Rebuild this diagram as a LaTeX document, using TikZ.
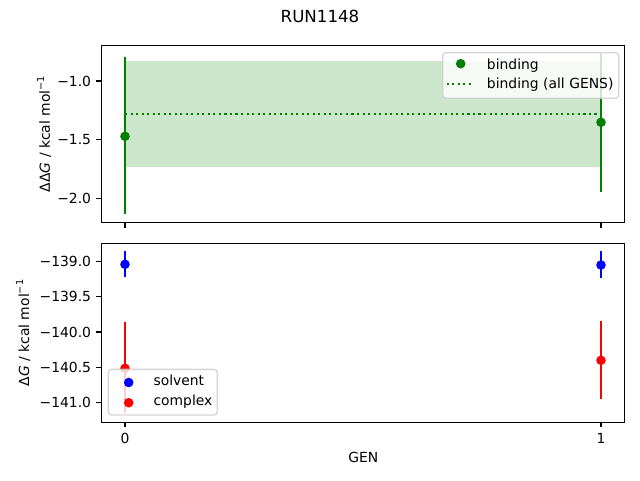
\documentclass[tikz,border=0pt]{standalone}
\usepackage{fontspec}
\setmainfont{DejaVu Sans}
\definecolor{mplgreen}{RGB}{0,128,0}
\definecolor{mplblue}{RGB}{0,0,255}
\definecolor{mplred}{RGB}{255,0,0}
\definecolor{leggray}{RGB}{204,204,204}
\newcommand{\supm}[1]{\raisebox{0.42em}{\fontsize{7.3}{8}\selectfont #1}}
\tikzset{
  lbl/.style={font=\fontsize{10.42}{12}\selectfont, inner sep=0pt, text height=7.6pt, text depth=0pt},
  ttl/.style={font=\fontsize{12.5}{14}\selectfont, inner sep=0pt, text height=9.1pt, text depth=0pt},
  ylbl/.style={font=\fontsize{10.42}{12}\selectfont, inner sep=0pt, rotate=90, anchor=base},
  legtxt/.style={font=\fontsize{10.42}{12}\selectfont, inner sep=0pt, anchor=base west},
  ebar/.style={line width=1.5625pt},
  spine/.style={line width=0.833pt},
  tickmark/.style={line width=0.833pt},
  legbox/.style={draw=leggray, fill=white, fill opacity=0.8, draw opacity=0.8, line width=1.04pt, rounded corners=2.5pt},
  dotline/.style={line width=1.5625pt, dash pattern=on 1.5625pt off 2.58pt, mplgreen},
  mk/.style={radius=3.6pt},
}
\begin{document}
\begin{tikzpicture}[x=0.75pt, y=-0.75pt]
\useasboundingbox (0,0) rectangle (640,480);
% ---------- title ----------
\node[ttl] (title) at (320,16) {RUN1148};
% ---------- top axes ----------
\fill[mplgreen, opacity=0.2] (125,61) rectangle (601,166.7);
\draw[dotline] (125,113.7) -- (601,113.7);
\draw[ebar, mplgreen] (125,57.3) -- (125,214.3);
\draw[ebar, mplgreen] (601,52.8) -- (601,191.7);
\fill[mplgreen] (125,136.3) circle[mk];
\fill[mplgreen] (601,122.3) circle[mk];
\draw[spine] (101.2,45.3) rectangle (624.9,222.7);
% y ticks
\foreach \yy/\tt/\nm in {81/{−1.0}/ta,139.7/{−1.5}/tb,198.3/{−2.0}/tc}{
  \draw[tickmark] (101.2,\yy) -- (96.3,\yy);
  \node[lbl, anchor=east] (\nm) at (91.3,\yy) {\tt};
}
\draw[tickmark] (125,222.7) -- (125,227.6);
\draw[tickmark] (601,222.7) -- (601,227.6);
\node[ylbl] (ylabtop) at (50,134) {ΔΔ\textit{G} / kcal mol\supm{−1}};
% legend top
\draw[legbox] (442.7,52.7) rectangle (618.8,98.2);
\fill[mplgreen] (460.7,63.7) circle[mk];
\node[legtxt] (lb1) at (486.7,69.3) {binding};
\draw[dotline] (446.5,84) -- (473.5,84);
\node[legtxt] (lb2) at (486.7,88.6) {binding (all GENS)};
% ---------- bottom axes ----------
\draw[ebar, mplblue] (125,251) -- (125,276.7);
\draw[ebar, mplblue] (601,251) -- (601,277.7);
\draw[ebar, mplred] (125,321.7) -- (125,413.3);
\draw[ebar, mplred] (601,320.7) -- (601,398.7);
\fill[mplblue] (125,264.3) circle[mk];
\fill[mplblue] (601,265) circle[mk];
\fill[mplred] (125,368.3) circle[mk];
\fill[mplred] (601,360.3) circle[mk];
\draw[spine] (101.2,243.7) rectangle (624.9,422.3);
\foreach \yy/\tt/\nm in {261.7/{−139.0}/ba,296.85/{−139.5}/bb,332.0/{−140.0}/bc,367.15/{−140.5}/bd,402.3/{−141.0}/be}{
  \draw[tickmark] (101.2,\yy) -- (96.3,\yy);
  \node[lbl, anchor=east] (\nm) at (91.3,\yy) {\tt};
}
\draw[tickmark] (125,422.3) -- (125,427.2);
\draw[tickmark] (601,422.3) -- (601,427.2);
\node[lbl, anchor=north] (x0) at (125,432.6) {0};
\node[lbl, anchor=north] (x1) at (601,432.6) {1};
\node[lbl] (xlab) at (363.3,457.3) {GEN};
\node[ylbl] (ylabbot) at (29,333) {Δ\textit{G} / kcal mol\supm{−1}};
% legend bottom
\draw[legbox] (108.3,369.3) rectangle (217.3,415);
\fill[mplblue] (128.7,382.5) circle[mk];
\fill[mplred] (128.7,402.7) circle[mk];
\node[legtxt] (ls1) at (153.3,385.3) {solvent};
\node[legtxt] (ls2) at (153.3,405.8) {complex};
\end{tikzpicture}
\end{document}
